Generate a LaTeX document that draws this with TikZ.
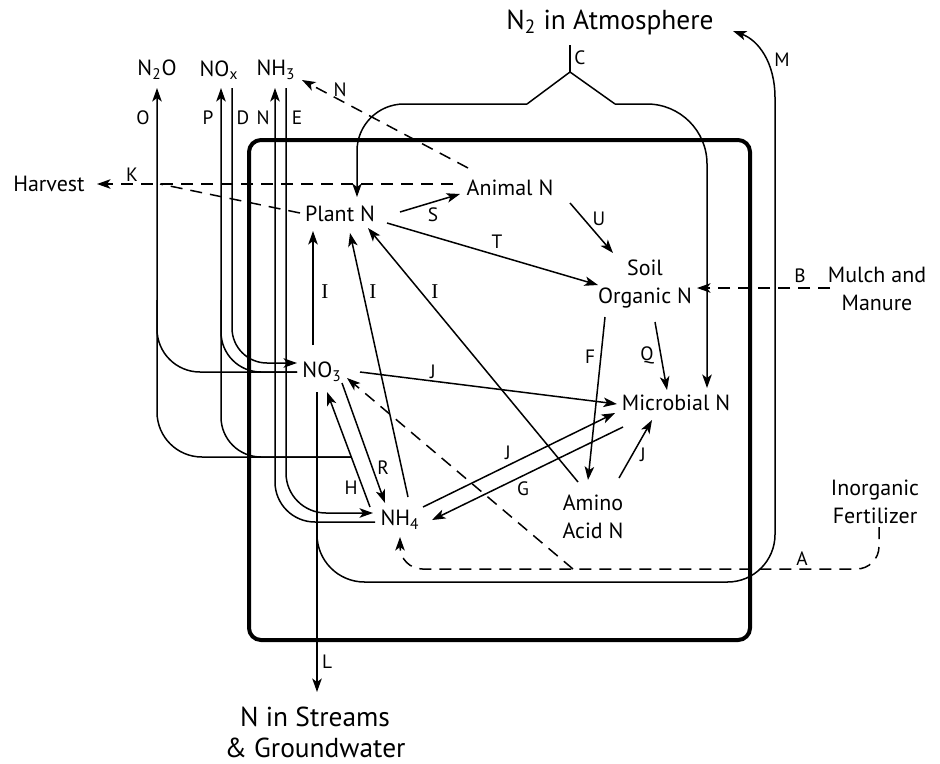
\documentclass[tikz,border=0pt]{standalone}
\usepackage{fontspec}
\setmainfont{PT Sans}
\newfontfamily\romanI{Liberation Serif}
\usetikzlibrary{arrows.meta,calc}
\begin{document}
\begin{tikzpicture}[x=0.2mm, y=0.2mm,
    every node/.style={font=\fontsize{12.5}{16}\selectfont, align=center, inner sep=1pt},
    big/.style={font=\fontsize{15.6}{17.6}\selectfont},
    tag/.style={font=\fontsize{11}{12}\selectfont},
    itag/.style={font=\romanI\fontsize{12}{12}\selectfont},
    flow/.style={line width=0.3mm},
    arr/.style={flow, -{Stealth[length=2.7mm, width=1.9mm, inset=0.7mm]}},
    dashflow/.style={flow, dash pattern=on 2.4mm off 1.6mm},
    soilbox/.style={line width=0.8mm, rounded corners=2.4mm}
  ]
  \useasboundingbox (0,0) rectangle (940,-763);
  \draw[soilbox] (249,-140) rectangle (750,-640);

  \node[big] (atm) at (610,-22) {N\textsubscript{2} in Atmosphere};
  \node (n2o) at (157,-70) {N\textsubscript{2}O};
  \node (nox) at (219,-70) {NO\textsubscript{x}};
  \node (nh3) at (276,-70) {NH\textsubscript{3}};
  \node (harvest) at (49,-184) {Harvest};
  \node (plant) at (340,-214) {Plant N};
  \node (animal) at (510,-188) {Animal N};
  \node (soil) at (645,-284) {Soil\\Organic N};
  \node (mulch) at (877,-289) {Mulch and\\Manure};
  \node (micro) at (676,-403) {Microbial N};
  \node (no3) at (322,-372) {NO\textsubscript{3}};
  \node (nh4) at (400,-520) {NH\textsubscript{4}};
  \node (amino) at (593,-517) {Amino\\Acid N};
  \node (fert) at (875,-502) {Inorganic\\Fertilizer};
  \node[big] (stream) at (315,-732) {N in Streams\\\& Groundwater};

  \coordinate (cfix) at (570,-45);
  \coordinate (cfork) at (570,-72);
  \draw[flow] (cfix) -- (cfork);
  \draw[flow] (527,-104) -- (cfork) -- (615,-104);
  \draw[arr, rounded corners=9.4mm] (527,-104) -- (357,-104) -- ($(plant)+(17,17)$);
  \draw[arr, rounded corners=12mm] (615,-104) -- (707,-104) -- ($(micro)+(31,15)$);

  \coordinate (lTop) at ($(no3)+(-5,-20)$);
  \draw[arr] (lTop) -- ($(stream)+(2,40)$);
  \draw[flow, rounded corners=9.5mm] (lTop) -- (317,-582) -- (775,-582) -- (775,-98);
  \draw[arr] (775,-98) .. controls (775,-62) and (758,-40) .. ($(atm)+(123,-9)$);

  \coordinate (hJoin) at (351,-457);
  \draw[arr, rounded corners=9mm] (hJoin) -- (157,-457) -- ($(n2o)+(0,-18)$);
  \draw[flow, rounded corners=8.6mm] ($(no3)+(-25,0)$) -- (157,-372) -- (157,-300);
  \draw[arr, rounded corners=8mm] (hJoin) -- (221,-457) -- ($(nox)+(2,-18)$);
  \draw[flow, rounded corners=8mm] ($(no3)+(-25,0)$) -- (221,-372) -- (221,-300);
  \draw[arr, rounded corners=7mm] ($(nox)+(13,-18)$) -- (232,-363) -- ($(no3)+(-25,9)$);
  \draw[arr, rounded corners=8mm] ($(nh4)+(-25,-2)$) -- (275,-522) -- ($(nh3)+(-1,-18)$);
  \draw[arr, rounded corners=8mm] ($(nh3)+(10,-18)$) -- (286,-513) -- ($(nh4)+(-27,7)$);

  \coordinate (kJoin) at (160,-184);
  \draw[arr, dashflow] ($(animal)+(-57,4)$) -- ($(harvest)+(48,0)$);
  \draw[dashflow] ($(plant)+(-40,1)$) -- (kJoin);
  \draw[arr, dashflow] ($(animal)+(-42,20)$) -- ($(nh3)+(26,-10)$);

  \draw[arr] ($(plant)+(60,2)$) -- ($(animal)+(-50,-6)$);
  \draw[arr] ($(plant)+(47,-9)$) -- ($(soil)+(-47,-1)$);
  \draw[arr] ($(animal)+(60,-15)$) -- ($(soil)+(-32,31)$);
  \draw[arr, dashflow] ($(mulch)+(-47,1)$) -- ($(soil)+(52,-4)$);
  \draw[arr] ($(soil)+(-40,-33)$) -- ($(amino)+(-5,37)$);
  \draw[arr] ($(soil)+(10,-38)$) -- ($(micro)+(-9,13)$);
  \draw[arr] ($(amino)+(26,39)$) -- ($(micro)+(-24,-17)$);
  \draw[arr] ($(amino)+(-15,35)$) -- ($(plant)+(28,-14)$);
  \draw[arr] ($(no3)+(-9,27)$) -- ($(plant)+(-27,-17)$);
  \draw[arr] ($(nh4)+(8,23)$) -- ($(plant)+(10,-19)$);
  \draw[arr] ($(no3)+(38,0)$) -- ($(micro)+(-59,-1)$);
  \draw[arr] ($(nh4)+(-30,13)$) -- ($(no3)+(5,-20)$);
  \draw[arr] ($(no3)+(20,-11)$) -- ($(nh4)+(-15,17)$);
  \draw[arr] ($(nh4)+(23,13)$) -- ($(micro)+(-61,-10)$);
  \draw[arr] ($(micro)+(-53,-24)$) -- ($(nh4)+(32,0)$);

  \coordinate (aSplit) at (573,-569);
  \draw[arr, dashflow, rounded corners=4.5mm] ($(fert)+(4,-25)$) -- (879,-569) -- (400,-569) -- ($(nh4)+(0,-17)$);
  \draw[arr, dashflow] (aSplit) -- ($(no3)+(25,-6)$);

  \node[tag] (tC) at (580,-58) {C};
  \node[tag] (tM) at (782,-60) {M};
  \node[tag] (tNa) at (340,-90) {N};
  \node[tag] (tO) at (143,-118) {O};
  \node[tag] (tP) at (208,-118) {P};
  \node[tag] (tD) at (243,-118) {D};
  \node[tag] (tNb) at (263,-118) {N};
  \node[tag] (tE) at (297,-118) {E};
  \node[tag] (tK) at (132,-175) {K};
  \node[tag] (tS) at (433,-215) {S};
  \node[tag] (tT) at (497,-242) {T};
  \node[tag] (tU) at (599,-219) {U};
  \node[tag] (tB) at (800,-276) {B};
  \node[itag] (tIa) at (325,-292) {I};
  \node[itag] (tIb) at (373,-292) {I};
  \node[itag] (tIc) at (435,-292) {I};
  \node[tag] (tF) at (590,-357) {F};
  \node[tag] (tQ) at (647,-355) {Q};
  \node[tag] (tJa) at (433,-372) {J};
  \node[tag] (tJb) at (508,-453) {J};
  \node[tag] (tG) at (523,-489) {G};
  \node[tag] (tJc) at (643,-455) {J};
  \node[tag] (tH) at (351,-488) {H};
  \node[tag] (tR) at (383,-468) {R};
  \node[tag] (tA) at (802,-559) {A};
  \node[tag] (tL) at (327,-662) {L};
\end{tikzpicture}
\end{document}
